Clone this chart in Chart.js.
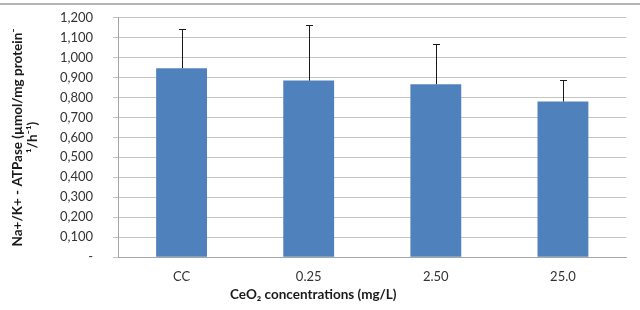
<!DOCTYPE html>
<html>
<head>
<meta charset="utf-8">
<script src="https://cdn.jsdelivr.net/npm/chart.js@4/dist/chart.umd.min.js"></script>
<style>
  html, body { margin: 0; padding: 0; background: #fff; }
  #wrap { position: relative; width: 640px; height: 310px; }
  #topline { position: absolute; left: 0; top: 3px; width: 640px; border-top: 2px solid #b4b4b4; }
  canvas { position: absolute; left: 0; top: 0; }
</style>
</head>
<body>
<div id="wrap">
  <canvas id="c" width="640" height="310"></canvas>
  <div id="topline"></div>
</div>
<script>
const categories = ['CC', '0.25', '2.50', '25.0'];
const activity = [0.946, 0.884, 0.866, 0.779];
const activityErr = [0.196, 0.277, 0.200, 0.107];
const yTickLabels = ['-', '0,100', '0,200', '0,300', '0,400', '0,500', '0,600',
                     '0,700', '0,800', '0,900', '1,000', '1,100', '1,200'];
const yTitle = ['Na+/K+ - ATPase (µmol/mg protein⁻', '¹/h⁻¹)'];
const xTitle = 'CeO₂ concentrations (mg/L)';

const errorBars = {
  id: 'errorBars',
  afterDatasetsDraw(chart) {
    const ctx = chart.ctx;
    const y = chart.scales.y;
    const meta = chart.getDatasetMeta(0);
    ctx.save();
    ctx.strokeStyle = '#1a1a1a';
    ctx.lineWidth = 1;
    meta.data.forEach((bar, i) => {
      const x = Math.round(bar.x) + 0.5;
      const yb = y.getPixelForValue(activity[i]);
      const yt = Math.round(y.getPixelForValue(activity[i] + activityErr[i])) + 0.5;
      ctx.beginPath();
      ctx.moveTo(x, yb);
      ctx.lineTo(x, yt);
      ctx.moveTo(x - 3.5, yt);
      ctx.lineTo(x + 3.5, yt);
      ctx.stroke();
    });
    ctx.restore();
  }
};

new Chart(document.getElementById('c'), {
  type: 'bar',
  data: {
    labels: categories,
    datasets: [{
      data: activity,
      backgroundColor: '#4f81bd',
      borderWidth: 0,
      categoryPercentage: 1,
      barPercentage: 0.4
    }]
  },
  plugins: [errorBars],
  options: {
    responsive: false,
    animation: false,
    devicePixelRatio: 1,
    layout: { padding: { top: 17.5, right: 13.5, left: 0, bottom: 0 } },
    plugins: {
      legend: { display: false },
      tooltip: { enabled: false },
      title: {
        display: true,
        position: 'bottom',
        text: xTitle,
        color: '#1a1a1a',
        font: { family: 'Lato', size: 13.5, weight: 'bold', lineHeight: 1.1 },
        padding: { top: 4, bottom: 8 }
      }
    },
    scales: {
      x: {
        grid: { display: false, drawTicks: false },
        border: { display: true, color: '#a6a6a6' },
        ticks: { color: '#333', padding: 12, font: { family: 'Lato', size: 13 } },
        afterFit(s) { s.height = 26; s.paddingLeft = 0; s.paddingRight = 0; }
      },
      y: {
        min: 0,
        max: 1.2,
        ticks: {
          stepSize: 0.1,
          color: '#333',
          padding: 20,
          font: { family: 'Lato', size: 13 },
          callback: (v, i) => yTickLabels[i]
        },
        grid: { color: '#c4c4c4', tickLength: 5 },
        border: { color: '#a6a6a6' },
        title: {
          display: true,
          text: yTitle,
          color: '#1a1a1a',
          font: { family: 'Lato', size: 13.5, weight: 'bold', lineHeight: 1.1 },
          padding: { top: 10, bottom: 0 }
        },
        afterFit(s) { s.width = 118; s.paddingTop = 0; s.paddingBottom = 0; }
      }
    }
  }
});
</script>
</body>
</html>
